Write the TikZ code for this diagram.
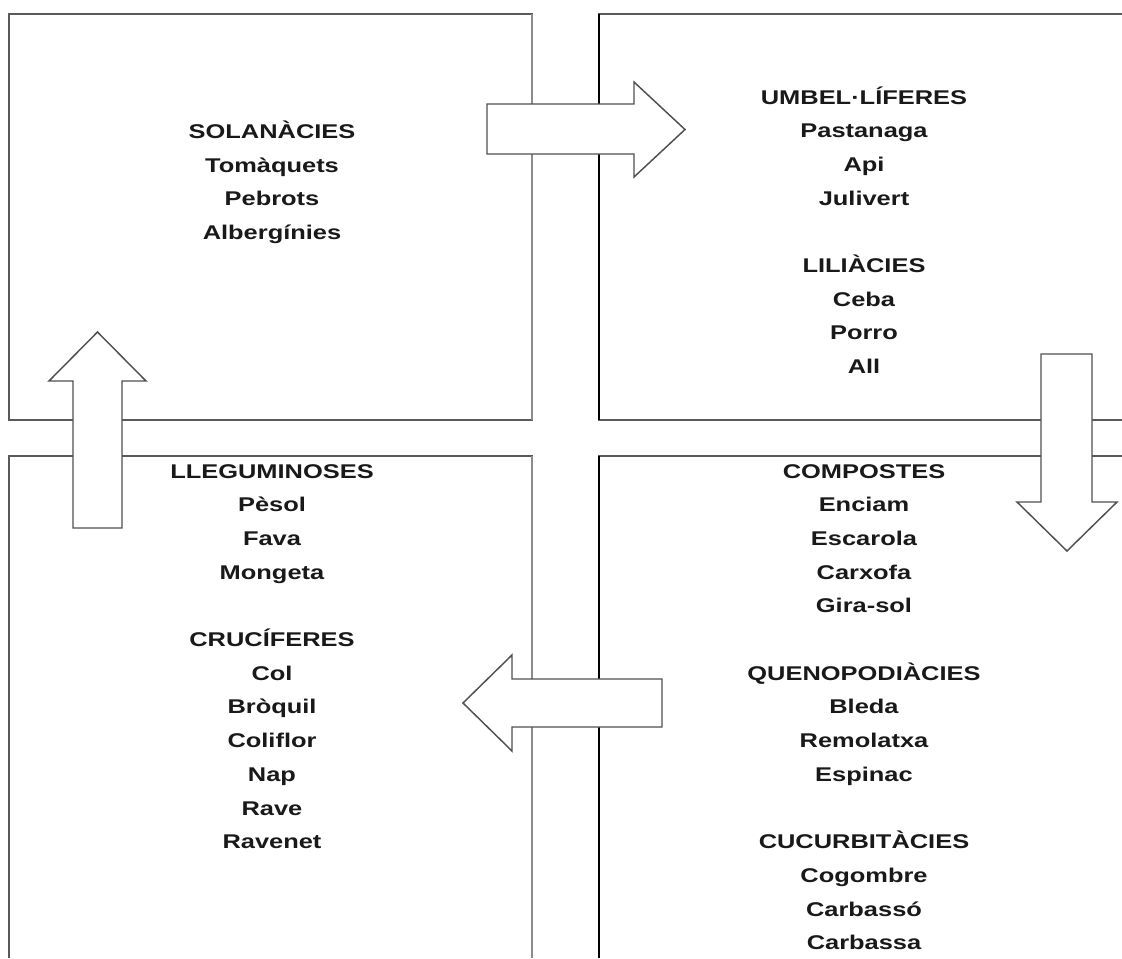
\documentclass[tikz,border=0pt]{standalone}
\usepackage{fontspec}
\newfontfamily\labfont{Liberation Sans}[FakeStretch=1.28]
\definecolor{boxline}{HTML}{5A5A5A}
\definecolor{sepline}{HTML}{8C8C8C}
\definecolor{arrowline}{HTML}{505050}
\begin{document}
\begin{tikzpicture}[x=0.75pt,y=-0.75pt,
  boxedge/.style={draw=boxline,line width=1.4pt},
  inneredge/.style={draw=sepline,line width=1.4pt},
  darkedge/.style={draw=black,line width=0.8pt},
  blockarrow/.style={draw=arrowline,fill=white,line width=1.1pt,line join=miter},
  item/.style={anchor=base,inner sep=0pt,font=\labfont\bfseries\fontsize{14.9pt}{17pt}\selectfont,text=black!90}]
\useasboundingbox (0,0) rectangle (1122,958);
% top-left box
\draw[boxedge] (533,14) -- (9,14) -- (9,420) -- (533,420);
\draw[inneredge] (532,14) -- (532,420);
% top-right box
\draw[boxedge] (1122,14) -- (598,14);
\draw[boxedge] (598,420) -- (1122,420);
\draw[darkedge] (599,14) -- (599,420);
% bottom-left box
\draw[boxedge] (9,958) -- (9,456) -- (533,456);
\draw[inneredge] (532,456) -- (532,958);
% bottom-right box
\draw[boxedge] (598,456) -- (1122,456);
\draw[darkedge] (599,456) -- (599,958);
% block arrows
\draw[blockarrow] (487,104) -- (634,104) -- (634,82) -- (685,129.5) -- (634,177) -- (634,154) -- (487,154) -- cycle;
\draw[blockarrow] (1041,354) -- (1092,354) -- (1092,502) -- (1117,502) -- (1067,551) -- (1017,502) -- (1041,502) -- cycle;
\draw[blockarrow] (662,679) -- (512,679) -- (512,655) -- (463,703) -- (512,751) -- (512,727) -- (662,727) -- cycle;
\draw[blockarrow] (73,528) -- (73,381) -- (49,381) -- (97.5,332) -- (146,381) -- (122,381) -- (122,528) -- cycle;
% texts
\foreach \t [count=\i] in {SOLANÀCIES,Tomàquets,Pebrots,Albergínies}
  \node[item] (tl\i) at (272,{138.5+33.6*(\i-1)}) {\t};
\foreach \t [count=\i] in {UMBEL·LÍFERES,Pastanaga,Api,Julivert,{},LILIÀCIES,Ceba,Porro,All}
  \node[item] (tr\i) at (864,{104+33.7*(\i-1)}) {\t};
\foreach \t [count=\i] in {LLEGUMINOSES,Pèsol,Fava,Mongeta,{},CRUCÍFERES,Col,Bròquil,Coliflor,Nap,Rave,Ravenet}
  \node[item] (bl\i) at (272,{478+33.7*(\i-1)}) {\t};
\foreach \t [count=\i] in {COMPOSTES,Enciam,Escarola,Carxofa,Gira-sol,{},QUENOPODIÀCIES,Bleda,Remolatxa,Espinac,{},CUCURBITÀCIES,Cogombre,Carbassó,Carbassa}
  \node[item] (br\i) at (864,{478+33.7*(\i-1)}) {\t};
\end{tikzpicture}
\end{document}
